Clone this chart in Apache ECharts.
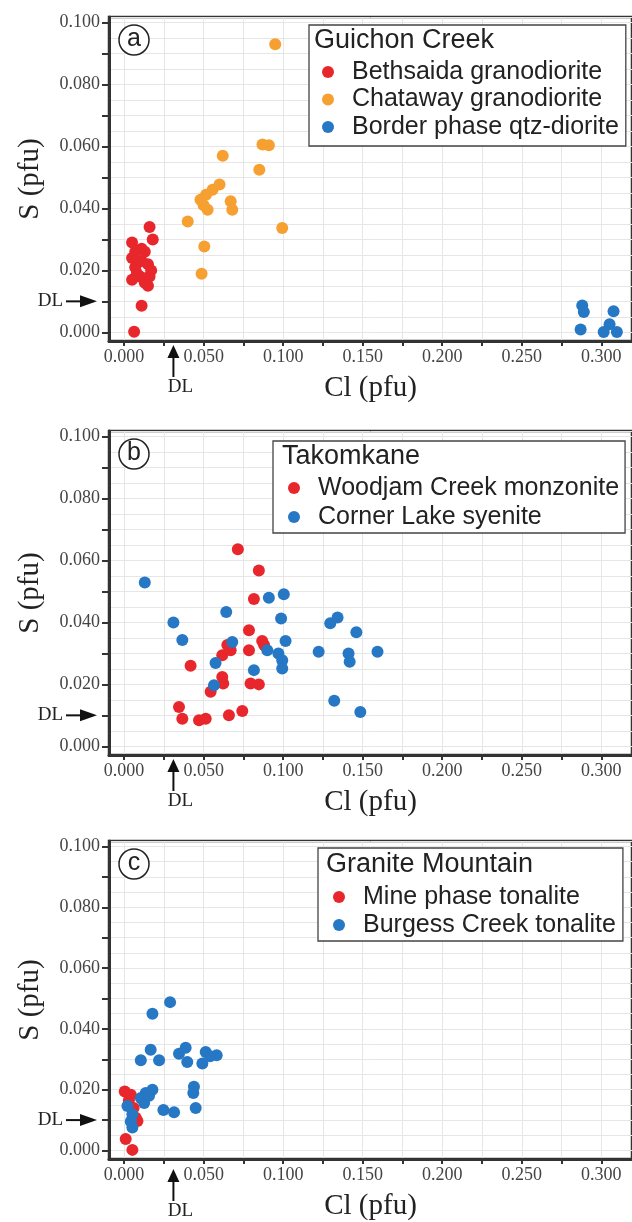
<!DOCTYPE html>
<html>
<head>
<meta charset="utf-8">
<script src="https://cdn.jsdelivr.net/npm/echarts@6/dist/echarts.min.js"></script>
<style>
  html, body { margin: 0; padding: 0; background: #fff; }
  #chart { width: 632px; height: 1222px; }
</style>
</head>
<body>
<div id="chart"></div>
<script>
// (a) Guichon Creek  -- [Cl, S] in pfu
var bethsaida = [[0.005,0.029],[0.011,0.027],[0.007,0.026],[0.016,0.034],[0.018,0.030],[0.005,0.024],
  [0.011,0.023],[0.015,0.022],[0.005,0.017],[0.010,0.018],[0.016,0.018],[0.015,0.015],[0.007,0.021],
  [0.013,0.026],[0.017,0.020],[0.008,0.019],[0.013,0.016],[0.011,0.0086],[0.0063,0.0002]];
var chataway = [[0.095,0.093],[0.062,0.057],[0.085,0.0525],[0.087,0.0606],[0.091,0.0604],[0.060,0.0477],
  [0.0556,0.046],[0.0515,0.0444],[0.048,0.0428],[0.0525,0.0396],[0.050,0.041],[0.067,0.0423],
  [0.068,0.0396],[0.040,0.0358],[0.0994,0.0337],[0.0504,0.0277],[0.0487,0.0189]];
var borderPhase = [[0.288,0.0087],[0.289,0.0066],[0.287,0.0009],[0.3077,0.0068],[0.3052,0.0026],
  [0.3015,0.0001],[0.3098,0.0001]];

// (b) Takomkane
var woodjam = [[0.0715,0.0636],[0.0847,0.0568],[0.0816,0.0476],[0.0785,0.0375],[0.0785,0.031],[0.0868,0.034],
  [0.088,0.0327],[0.0649,0.0327],[0.0617,0.0294],[0.067,0.031],[0.0418,0.026],[0.0617,0.0224],
  [0.0623,0.0203],[0.0795,0.0203],[0.0847,0.020],[0.0544,0.0176],[0.0345,0.0127],[0.0366,0.0089],
  [0.0471,0.0084],[0.0513,0.0089],[0.0659,0.010],[0.0743,0.0114]];
var cornerLake = [[0.013,0.0529],[0.031,0.040],[0.0366,0.0343],[0.0642,0.0434],[0.091,0.048],[0.1004,0.0491],
  [0.0987,0.0413],[0.1015,0.034],[0.068,0.0337],[0.0575,0.0269],[0.090,0.031],[0.097,0.030],
  [0.0994,0.0278],[0.0994,0.0251],[0.0816,0.0246],[0.0565,0.0197],[0.1223,0.0305],[0.1296,0.0397],
  [0.1342,0.0416],[0.146,0.0368],[0.1411,0.030],[0.1418,0.0273],[0.1593,0.0305],[0.1321,0.0147],
  [0.1485,0.0111]];

// (c) Granite Mountain
var minePhase = [[0.0004,0.0194],[0.0042,0.0183],[0.0073,0.0108],[0.0084,0.0097],[0.001,0.0038],
  [0.0052,0.0002],[0.003,0.0165],[0.006,0.014]];
var burgess = [[0.0289,0.0488],[0.0178,0.045],[0.0167,0.0331],[0.022,0.0297],[0.0105,0.0297],[0.0345,0.0318],
  [0.0387,0.0338],[0.0397,0.0291],[0.0513,0.0324],[0.0582,0.0313],[0.0492,0.0286],[0.054,0.031],
  [0.0178,0.020],[0.0136,0.0189],[0.0105,0.0173],[0.0126,0.0156],[0.0157,0.018],[0.0439,0.021],
  [0.0435,0.0189],[0.045,0.014],[0.0247,0.0133],[0.0314,0.0126],[0.0021,0.0146],[0.0052,0.0119],
  [0.0052,0.0076],[0.0042,0.0095]];

var xTicks = [0, 0.025, 0.05, 0.075, 0.1, 0.125, 0.15, 0.175, 0.2, 0.225, 0.25, 0.275, 0.3];
var xLabels = [0, 0.05, 0.1, 0.15, 0.2, 0.25, 0.3];
var yTicks = [0, 0.01, 0.02, 0.03, 0.04, 0.05, 0.06, 0.07, 0.08, 0.09, 0.1];
var yLabels = [0, 0.02, 0.04, 0.06, 0.08, 0.1];
var clDL = 0.031;   // detection limits
var sDL = 0.010;

var RED = '#e8272c', ORANGE = '#f6a032', BLUE = '#2677c4';
var SERIF = 'Liberation Serif', SANS = 'Liberation Sans';

var panels = [
  { letter: 'a', title: 'Guichon Creek', top: 17,
    legend: { left: 309, top: 25, padding: [34.5, 7, 6.5, 13], gap: 2.5 }, titlePos: [314, 27.5],
    series: [['Bethsaida granodiorite', bethsaida, RED], ['Chataway granodiorite', chataway, ORANGE],
             ['Border phase qtz-diorite', borderPhase, BLUE]] },
  { letter: 'b', title: 'Takomkane', top: 431,
    legend: { left: 273, top: 441, padding: [34.5, 6, 3.5, 15], gap: 4 }, titlePos: [282, 443.5],
    series: [['Woodjam Creek monzonite', woodjam, RED], ['Corner Lake syenite', cornerLake, BLUE]] },
  { letter: 'c', title: 'Granite Mountain', top: 841,
    legend: { left: 318, top: 848, padding: [36.5, 7, 3.5, 15], gap: 3 }, titlePos: [326, 851.5],
    series: [['Mine phase tonalite', minePhase, RED], ['Burgess Creek tonalite', burgess, BLUE]] }
];

var GRID_LEFT = 109, GRID_H = 324;
var xMin = -0.0095, xMax = 0.3193, yMin = -0.0028, yMax = 0.1018;

var myChart = echarts.init(document.getElementById('chart'));
var grids = [], xAxes = [], yAxes = [], series = [], legends = [], titles = [];

panels.forEach(function (p, i) {
  grids.push({ left: GRID_LEFT, right: -3, top: p.top, height: GRID_H, show: true,
    borderColor: '#333', borderWidth: 2.5, backgroundColor: '#fff' });

  // visible axes
  xAxes.push({ type: 'value', gridIndex: i, position: 'bottom', min: xMin, max: xMax,
    name: 'Cl (pfu)', nameLocation: 'middle', nameGap: 33,
    nameTextStyle: { fontFamily: SERIF, fontSize: 29, color: '#222' },
    axisLine: { onZero: false, lineStyle: { color: '#333', width: 3 } },
    axisTick: { customValues: xTicks, length: 5, lineStyle: { color: '#333', width: 2 } },
    axisLabel: { customValues: xLabels, margin: 7, fontFamily: SERIF, fontSize: 18, color: '#444',
      formatter: function (v) { return v.toFixed(3); } },
    splitLine: { show: false } });
  // grid lines only
  xAxes.push({ type: 'value', gridIndex: i, position: 'top', min: xMin, max: xMax,
    minInterval: 0.025, maxInterval: 0.025,
    axisLine: { show: false }, axisTick: { show: false }, axisLabel: { show: false },
    splitLine: { lineStyle: { color: '#e6e6e6', width: 1 } } });

  yAxes.push({ type: 'value', gridIndex: i, position: 'left', min: yMin, max: yMax,
    name: 'S (pfu)', nameLocation: 'middle', nameGap: 64,
    nameTextStyle: { fontFamily: SERIF, fontSize: 29, color: '#222' },
    axisLine: { onZero: false, lineStyle: { color: '#333', width: 3 } },
    axisTick: { customValues: yTicks, length: 7, lineStyle: { color: '#333', width: 2 } },
    axisLabel: { customValues: yLabels, margin: 9, fontFamily: SERIF, fontSize: 18, color: '#444',
      formatter: function (v) { return v.toFixed(3); } },
    splitLine: { show: false } });
  yAxes.push({ type: 'value', gridIndex: i, position: 'right', min: yMin, max: yMax,
    minInterval: 0.005, maxInterval: 0.005,
    axisLine: { show: false }, axisTick: { show: false }, axisLabel: { show: false },
    splitLine: { lineStyle: { color: '#e6e6e6', width: 1 } } });

  p.series.forEach(function (s) {
    series.push({ name: s[0], type: 'scatter', xAxisIndex: 2 * i, yAxisIndex: 2 * i,
      data: s[1], symbolSize: 12, clip: false, itemStyle: { color: s[2], opacity: 1 } });
  });

  legends.push({ orient: 'vertical', left: p.legend.left, top: p.legend.top,
    padding: p.legend.padding, itemGap: p.legend.gap, itemWidth: 38, itemHeight: 12,
    icon: 'circle', selectedMode: false,
    data: p.series.map(function (s) { return s[0]; }),
    textStyle: { fontFamily: SANS, fontSize: 25, color: '#222' },
    borderColor: '#444', borderWidth: 1.3, backgroundColor: '#fff' });

  titles.push({ text: p.title, left: p.titlePos[0], top: p.titlePos[1], padding: 0,
    textStyle: { fontFamily: SANS, fontSize: 27, fontWeight: 'normal', color: '#222' } });
});

myChart.setOption({
  animation: false,
  title: titles,
  legend: legends,
  grid: grids,
  xAxis: xAxes,
  yAxis: yAxes,
  series: series
});

// panel letters and detection-limit arrows
var graphics = [];
panels.forEach(function (p, i) {
  var finder = { xAxisIndex: 2 * i, yAxisIndex: 2 * i };
  var yDL = myChart.convertToPixel(finder, [0, sDL])[1];
  var xDL = myChart.convertToPixel(finder, [clDL, 0])[0];
  var bottom = p.top + GRID_H;

  graphics.push({ type: 'circle', shape: { cx: GRID_LEFT + 25, cy: p.top + 23, r: 15 },
    style: { fill: '#fff', stroke: '#222', lineWidth: 1.5 }, z: 10 });
  graphics.push({ type: 'text', x: GRID_LEFT + 25, y: p.top + 22, z: 11,
    style: { text: p.letter, fontFamily: SANS, fontSize: 25, fill: '#222', align: 'center', verticalAlign: 'middle' } });

  graphics.push({ type: 'text', x: 63, y: yDL,
    style: { text: 'DL', fontFamily: SERIF, fontSize: 19, fill: '#222', align: 'right', verticalAlign: 'middle' } });
  graphics.push({ type: 'line', shape: { x1: 66, y1: yDL, x2: 84, y2: yDL }, style: { stroke: '#111', lineWidth: 2 } });
  graphics.push({ type: 'polygon', shape: { points: [[80, yDL - 6], [97, yDL], [80, yDL + 6]] }, style: { fill: '#111' } });

  graphics.push({ type: 'polygon', shape: { points: [[xDL, bottom + 4], [xDL - 6, bottom + 17], [xDL + 6, bottom + 17]] }, style: { fill: '#111' } });
  graphics.push({ type: 'line', shape: { x1: xDL, y1: bottom + 14, x2: xDL, y2: bottom + 36 }, style: { stroke: '#111', lineWidth: 2 } });
  graphics.push({ type: 'text', x: xDL + 7, y: bottom + 46,
    style: { text: 'DL', fontFamily: SERIF, fontSize: 19, fill: '#222', align: 'center', verticalAlign: 'middle' } });
});
myChart.setOption({ graphic: graphics });
</script>
</body>
</html>
